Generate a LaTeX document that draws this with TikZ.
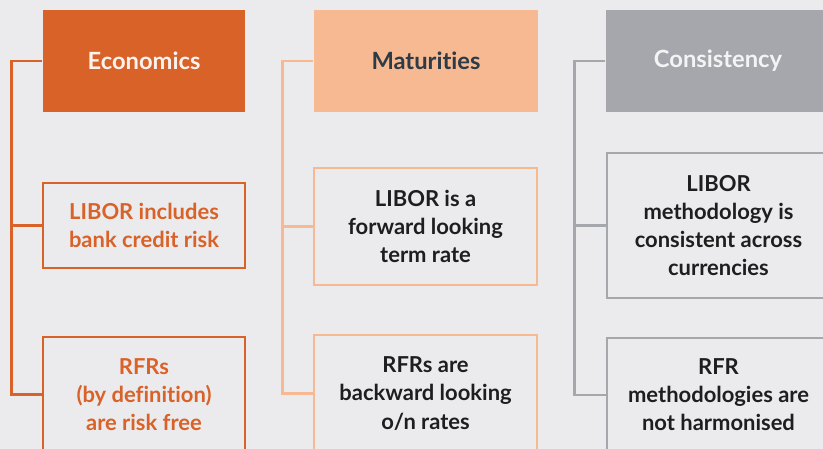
\documentclass[tikz,border=0pt]{standalone}
\usepackage{fontspec}
\setmainfont{Lato}[Ligatures=NoCommon]
\definecolor{bgcol}{HTML}{EBEBED}
\definecolor{econcol}{HTML}{D96228}
\definecolor{matcol}{HTML}{F7B992}
\definecolor{conscol}{HTML}{A6A6AD}
\definecolor{inkcol}{HTML}{1E1E1E}
\definecolor{navycol}{HTML}{2D3B47}
\begin{document}
\begin{tikzpicture}[x=0.02cm, y=-0.02cm, line width=1.6pt,
  head node/.style={rectangle,inner sep=0pt,align=center,font=\fontsize{13.5}{16}\selectfont\bfseries},
  item node/.style={rectangle,draw,inner sep=0pt,align=center,font=\fontsize{12.5}{16}\selectfont\bfseries},
  bracket/.style={line width=1.6pt}]
\fill[bgcol] (0,0) rectangle (823,449);
\useasboundingbox (0,0) rectangle (823,449);
% Economics
\node[head node, fill=econcol, text=white!92!econcol, minimum width=4.04cm, minimum height=2.04cm] (econ) at (144,61) {Economics};
\node[item node, draw=econcol, text=econcol, minimum width=4.04cm, minimum height=1.70cm] (econA) at (144,225.5) {LIBOR includes\\bank credit risk};
\node[item node, draw=econcol, text=econcol, minimum width=4.04cm, minimum height=2.30cm] (econB) at (144,394.5) {RFRs\\(by definition)\\are risk free};
% Maturities
\node[head node, fill=matcol, text=navycol, minimum width=4.48cm, minimum height=2.04cm] (mat) at (426,61) {Maturities};
\node[item node, draw=matcol, text=inkcol, minimum width=4.46cm, minimum height=2.34cm] (matA) at (425.5,226.5) {LIBOR is a\\forward looking\\term rate};
\node[item node, draw=matcol, text=inkcol, minimum width=4.46cm, minimum height=2.34cm] (matB) at (425.5,393.5) {RFRs are\\backward looking\\o/n rates};
% Consistency
\node[head node, fill=conscol, text=white!88!conscol, minimum width=4.48cm, minimum height=2.04cm] (cons) at (718,61) {Consistency};
\node[item node, draw=conscol, text=inkcol, minimum width=4.46cm, minimum height=2.90cm] (consA) at (718.5,225.5) {LIBOR\\methodology is\\consistent across\\currencies};
\node[item node, draw=conscol, text=inkcol, minimum width=4.46cm, minimum height=2.28cm] (consB) at (718.5,395) {RFR\\methodologies are\\not harmonised};
% brackets
\draw[bracket, econcol] (econ.west) -- ++(-30,0) |- (econB.west);
\draw[bracket, econcol] (econA.west) -- ++(-30,0);
\draw[bracket, matcol] (mat.west) -- ++(-30,0) |- (matB.west);
\draw[bracket, matcol] (matA.west) -- ++(-30,0);
\draw[bracket, conscol] (cons.west) -- ++(-30,0) |- (consB.west);
\draw[bracket, conscol] (consA.west) -- ++(-30,0);
\end{tikzpicture}
\end{document}
